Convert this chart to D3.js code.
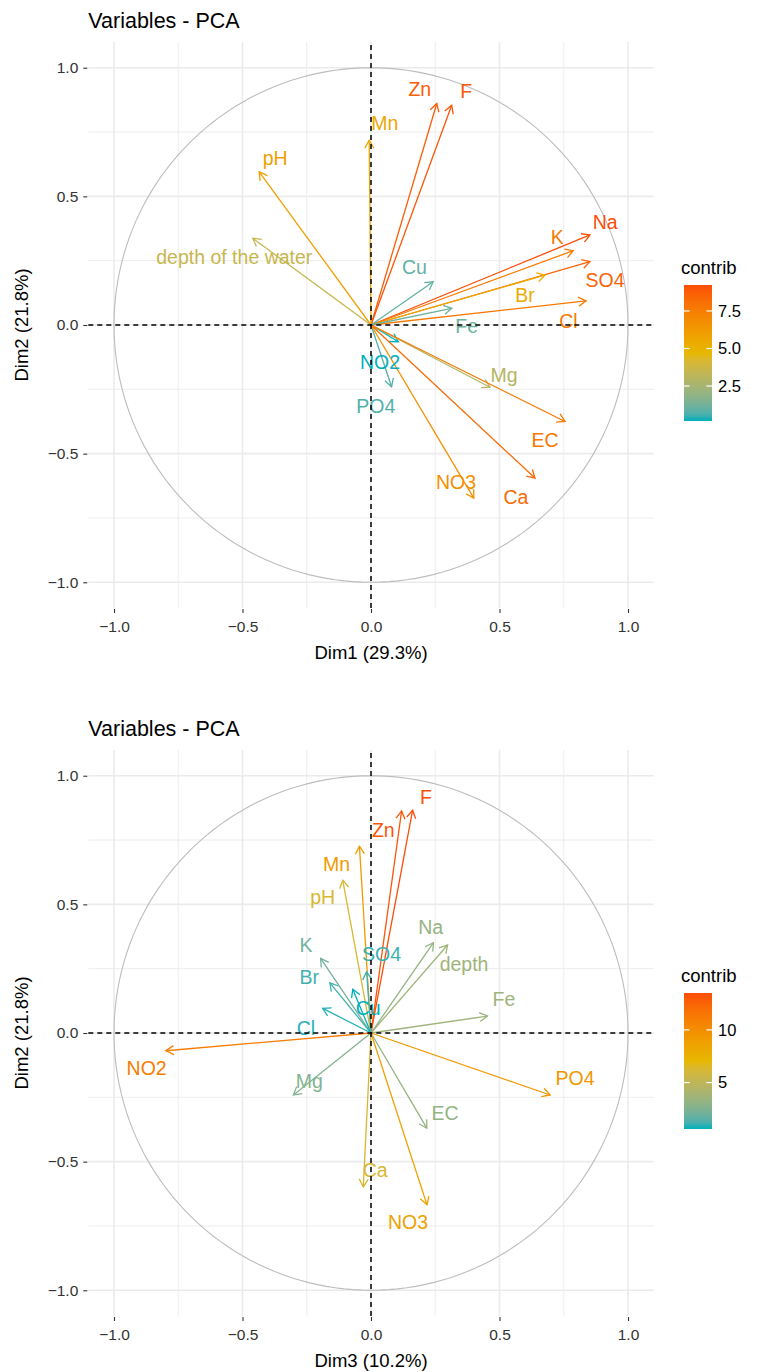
<!DOCTYPE html>
<html>
<head>
<meta charset="utf-8">
<script src="https://cdn.jsdelivr.net/npm/d3@7"></script>
<style>
  html, body { margin: 0; padding: 0; background: #fff; }
  svg { display: block; font-family: "Liberation Sans", Arial, Helvetica, sans-serif; }
</style>
</head>
<body>
<svg id="chart" width="760" height="1372"></svg>
<script>
// ---------- DATA: top chart (Dim1 vs Dim2) ----------
const varsTop = ["Zn","F","Mn","pH","depth of the water","Na","K","SO4","Br","Cl","Cu","Fe","NO2","PO4","Mg","EC","Ca","NO3"];
const dim1Top = [0.256, 0.314, -0.007, -0.435, -0.46, 0.852, 0.787, 0.852, 0.677, 0.837, 0.242, 0.314, 0.106, 0.08, 0.463, 0.755, 0.638, 0.40];
const dim2Top = [0.861, 0.854, 0.718, 0.595, 0.337, 0.35, 0.289, 0.246, 0.194, 0.094, 0.168, 0.065, -0.065, -0.24, -0.242, -0.375, -0.595, -0.673];
const contribTop = [8.78, 9.01, 5.61, 5.91, 3.54, 9.23, 7.65, 8.56, 5.40, 7.72, 0.94, 1.12, 0.17, 0.70, 2.97, 7.73, 8.28, 6.67];
// label anchor points (data units, as placed in the picture)
const labelXTop = [0.19, 0.37, 0.054, -0.373, -0.532, 0.911, 0.725, 0.911, 0.599, 0.768, 0.169, 0.372, 0.035, 0.019, 0.518, 0.677, 0.564, 0.331];
const labelYTop = [0.915, 0.91, 0.783, 0.647, 0.263, 0.401, 0.343, 0.175, 0.117, 0.013, 0.224, -0.006, -0.146, -0.317, -0.194, -0.447, -0.67, -0.612];
const legendTicksTop = [2.5, 5.0, 7.5];

// ---------- DATA: bottom chart (Dim3 vs Dim2) ----------
const varsBottom = ["Zn","F","Mn","pH","K","Br","Cu","SO4","Cl","Na","depth","Fe","NO2","Mg","EC","PO4","Ca","NO3"];
const dim3Bottom = [0.119, 0.162, -0.045, -0.11, -0.196, -0.16, -0.071, -0.017, -0.188, 0.243, 0.298, 0.453, -0.798, -0.302, 0.217, 0.697, -0.03, 0.218];
const dim2Bottom = [0.863, 0.866, 0.726, 0.594, 0.29, 0.195, 0.17, 0.238, 0.096, 0.351, 0.342, 0.066, -0.069, -0.241, -0.37, -0.241, -0.598, -0.668];
const contribBottom = [13.2, 13.5, 9.2, 6.3, 2.1, 1.1, 0.59, 0.99, 0.77, 3.2, 3.6, 3.6, 11.1, 2.6, 3.2, 9.4, 6.2, 8.6];
const labelXBottom = [0.048, 0.214, -0.134, -0.188, -0.253, -0.24, -0.011, 0.041, -0.253, 0.232, 0.362, 0.517, -0.873, -0.24, 0.288, 0.794, 0.016, 0.144];
const labelYBottom = [0.788, 0.915, 0.656, 0.527, 0.342, 0.216, 0.096, 0.307, 0.018, 0.41, 0.268, 0.131, -0.137, -0.189, -0.312, -0.175, -0.532, -0.734];
const legendTicksBottom = [5, 10];

// ---------- shared ----------
const axisTicks = [-1.0, -0.5, 0.0, 0.5, 1.0];
const minorTicks = [-0.75, -0.25, 0.25, 0.75];
const gradientColors = ["#00AFBB", "#E7B800", "#FC4E07"];
const chartTitle = "Variables - PCA";

const svg = d3.select("#chart");
const FONT_TICK = 15.5, FONT_AXIS = 18.5, FONT_TITLE = 21.5, FONT_LABEL = 19.5;

function fmt1(v) { return d3.format(".1f")(v); }

function drawChart(cfg) {
  const g = svg.append("g").attr("transform", `translate(0,${cfg.offsetY})`);
  const x = d3.scaleLinear().domain([-1.1, 1.1]).range([88.3, 653.7]);
  const y = d3.scaleLinear().domain([-1.1, 1.1]).range([608, 42]);
  const cmin = d3.min(cfg.contrib), cmax = d3.max(cfg.contrib);
  const color = d3.scaleLinear()
    .domain([cmin, (cmin + cmax) / 2, cmax])
    .range(gradientColors)
    .interpolate(d3.interpolateLab);

  // grid
  const grid = g.append("g");
  minorTicks.forEach(t => {
    grid.append("line").attr("x1", x(t)).attr("x2", x(t)).attr("y1", y.range()[1]).attr("y2", y.range()[0])
      .attr("stroke", "#EBEBEB").attr("stroke-width", 0.9);
    grid.append("line").attr("y1", y(t)).attr("y2", y(t)).attr("x1", x.range()[0]).attr("x2", x.range()[1])
      .attr("stroke", "#EBEBEB").attr("stroke-width", 0.9);
  });
  axisTicks.forEach(t => {
    grid.append("line").attr("x1", x(t)).attr("x2", x(t)).attr("y1", y.range()[1]).attr("y2", y.range()[0])
      .attr("stroke", "#EBEBEB").attr("stroke-width", 1.6);
    grid.append("line").attr("y1", y(t)).attr("y2", y(t)).attr("x1", x.range()[0]).attr("x2", x.range()[1])
      .attr("stroke", "#EBEBEB").attr("stroke-width", 1.6);
  });

  // axes (ticks + labels)
  const xAxis = d3.axisBottom(x).tickValues(axisTicks).tickFormat(fmt1).tickSize(4).tickPadding(8);
  const xa = g.append("g").attr("transform", `translate(0,${y.range()[0] + 1})`).call(xAxis);
  xa.select(".domain").remove();
  xa.selectAll(".tick line").attr("stroke", "#333").attr("stroke-width", 1.1);
  xa.selectAll(".tick text").attr("fill", "#333").style("font-size", FONT_TICK + "px")
    .style("font-family", "'Liberation Sans', Arial, sans-serif");

  const yAxis = d3.axisLeft(y).tickValues(axisTicks).tickFormat(fmt1).tickSize(4).tickPadding(5);
  const ya = g.append("g").attr("transform", `translate(${x.range()[0] - 1},0)`).call(yAxis);
  ya.select(".domain").remove();
  ya.selectAll(".tick line").attr("stroke", "#333").attr("stroke-width", 1.1);
  ya.selectAll(".tick text").attr("fill", "#333").style("font-size", FONT_TICK + "px")
    .style("font-family", "'Liberation Sans', Arial, sans-serif");

  // correlation circle
  const circle = d3.range(0, 361, 2).map(a => [Math.cos(a * Math.PI / 180), Math.sin(a * Math.PI / 180)]);
  g.append("path")
    .attr("d", d3.line().x(d => x(d[0])).y(d => y(d[1]))(circle))
    .attr("fill", "none").attr("stroke", "#BDBDBD").attr("stroke-width", 1.1);

  // arrows
  const arrows = g.append("g");
  cfg.names.forEach((name, i) => {
    const x0 = x(0), y0 = y(0);
    const x1 = x(cfg.dx[i]), y1 = y(cfg.dy[i]);
    const col = color(cfg.contrib[i]);
    arrows.append("line").attr("x1", x0).attr("y1", y0).attr("x2", x1).attr("y2", y1)
      .attr("stroke", col).attr("stroke-width", 1.3);
    const ang = Math.atan2(y1 - y0, x1 - x0);
    const L = 9, A = Math.PI / 6;
    const p1 = [x1 - L * Math.cos(ang - A), y1 - L * Math.sin(ang - A)];
    const p2 = [x1 - L * Math.cos(ang + A), y1 - L * Math.sin(ang + A)];
    arrows.append("path")
      .attr("d", `M${p1[0]},${p1[1]}L${x1},${y1}L${p2[0]},${p2[1]}`)
      .attr("fill", "none").attr("stroke", col).attr("stroke-width", 1.3)
      .attr("stroke-linejoin", "miter");
  });

  // labels
  const labels = g.append("g");
  cfg.names.forEach((name, i) => {
    labels.append("text")
      .attr("x", x(cfg.lx[i])).attr("y", y(cfg.ly[i]))
      .attr("dy", "0.35em")
      .attr("text-anchor", "middle")
      .attr("fill", color(cfg.contrib[i]))
      .style("font-size", FONT_LABEL + "px")
      .text(name);
  });

  // dashed axes lines (drawn last, on top)
  g.append("line").attr("x1", x.range()[0]).attr("x2", x.range()[1]).attr("y1", y(0)).attr("y2", y(0))
    .attr("stroke", "#000").attr("stroke-width", 1.5).attr("stroke-dasharray", "5,4");
  g.append("line").attr("x1", x(0)).attr("x2", x(0)).attr("y1", y.range()[0]).attr("y2", y.range()[1])
    .attr("stroke", "#000").attr("stroke-width", 1.5).attr("stroke-dasharray", "5,4");

  // titles
  g.append("text").attr("x", x.range()[0]).attr("y", 28)
    .style("font-size", FONT_TITLE + "px").attr("fill", "#000").text(chartTitle);
  g.append("text").attr("x", x(0)).attr("y", 659).attr("text-anchor", "middle")
    .style("font-size", FONT_AXIS + "px").attr("fill", "#000").text(cfg.xTitle);
  g.append("text").attr("transform", `translate(28,${y(0)}) rotate(-90)`).attr("text-anchor", "middle")
    .style("font-size", FONT_AXIS + "px").attr("fill", "#000").text(cfg.yTitle);

  // legend (colorbar)
  const barX = 684, barW = 28, barTop = 285, barBottom = 421;
  const ly = d3.scaleLinear().domain([cmin, cmax]).range([barBottom, barTop]);
  const gradId = "grad" + cfg.offsetY;
  const grad = svg.append("defs").append("linearGradient").attr("id", gradId)
    .attr("x1", 0).attr("y1", 1).attr("x2", 0).attr("y2", 0);
  d3.range(0, 1.0001, 0.05).forEach(t => {
    grad.append("stop").attr("offset", t).attr("stop-color", color(cmin + t * (cmax - cmin)));
  });
  const leg = g.append("g");
  leg.append("text").attr("x", barX - 3).attr("y", 274).style("font-size", FONT_AXIS + "px")
    .attr("fill", "#000").text("contrib");
  leg.append("rect").attr("x", barX).attr("y", barTop).attr("width", barW).attr("height", barBottom - barTop)
    .attr("fill", `url(#${gradId})`);
  cfg.legendTicks.forEach(t => {
    const ty = ly(t);
    leg.append("line").attr("x1", barX).attr("x2", barX + barW / 5).attr("y1", ty).attr("y2", ty)
      .attr("stroke", "#fff").attr("stroke-width", 1.2);
    leg.append("line").attr("x1", barX + barW - barW / 5).attr("x2", barX + barW).attr("y1", ty).attr("y2", ty)
      .attr("stroke", "#fff").attr("stroke-width", 1.2);
    leg.append("text").attr("x", barX + barW + 6).attr("y", ty).attr("dy", "0.35em")
      .style("font-size", FONT_TICK + 1 + "px").attr("fill", "#000").text(cfg.legendFormat(t));
  });
}

drawChart({
  offsetY: 0, names: varsTop, dx: dim1Top, dy: dim2Top, contrib: contribTop,
  lx: labelXTop, ly: labelYTop, legendTicks: legendTicksTop, legendFormat: fmt1,
  xTitle: "Dim1 (29.3%)", yTitle: "Dim2 (21.8%)"
});
drawChart({
  offsetY: 708, names: varsBottom, dx: dim3Bottom, dy: dim2Bottom, contrib: contribBottom,
  lx: labelXBottom, ly: labelYBottom, legendTicks: legendTicksBottom, legendFormat: d3.format("d"),
  xTitle: "Dim3 (10.2%)", yTitle: "Dim2 (21.8%)"
});
</script>
</body>
</html>
